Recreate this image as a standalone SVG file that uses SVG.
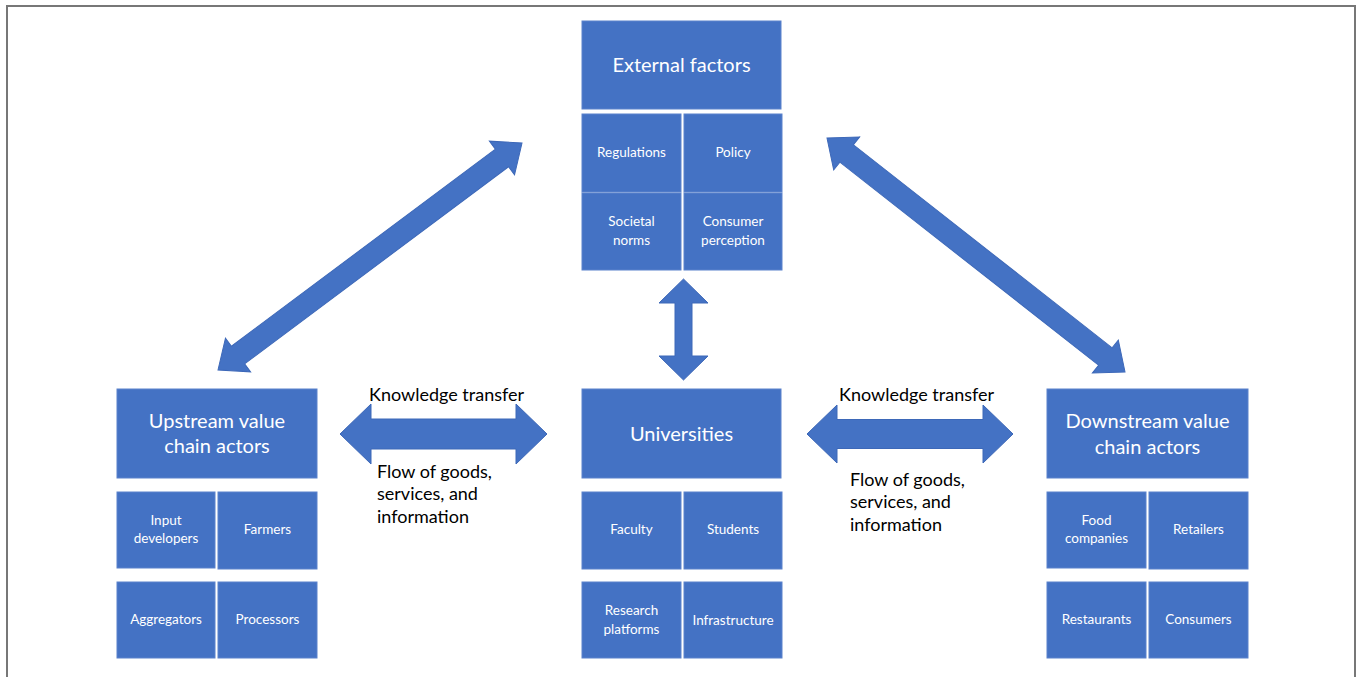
<svg xmlns="http://www.w3.org/2000/svg" width="1363" height="677" viewBox="0 0 1363 677">
<style>
.box{fill:#4472C4;stroke:#5b82cc;stroke-width:1}
.big{font-family:Lato,"Liberation Sans",sans-serif;font-size:20px;fill:#fff;text-anchor:middle;dominant-baseline:central}
.sm{font-family:Lato,"Liberation Sans",sans-serif;font-size:13.5px;fill:#fff;text-anchor:middle;dominant-baseline:central}
.lbl{font-family:Lato,"Liberation Sans",sans-serif;font-size:18px;fill:#000}
.arr{fill:#4472C4;stroke:#3d68b8;stroke-width:1}
</style>
<rect x="0" y="0" width="1363" height="677" fill="#fff"/>
<path d="M7,677 V6 H1355 V677" fill="none" stroke="#777" stroke-width="2"/>

<g id="external">
<rect class="box" x="582" y="21" width="199" height="88"/>
<text class="big" x="681.5" y="64">External factors</text>
<rect class="box" x="582" y="114" width="99" height="78"/>
<text class="sm" x="631.5" y="152">Regulations</text>
<rect class="box" x="684" y="114" width="98" height="78"/>
<text class="sm" x="733" y="152">Policy</text>
<rect class="box" x="582" y="193" width="99" height="77"/>
<text class="sm" x="631.5" y="221">Societal</text>
<text class="sm" x="631.5" y="240">norms</text>
<rect class="box" x="684" y="193" width="98" height="77"/>
<text class="sm" x="733" y="221">Consumer</text>
<text class="sm" x="733" y="240">perception</text>
</g>

<g id="universities">
<rect class="box" x="582" y="389" width="199" height="89"/>
<text class="big" x="681.5" y="433">Universities</text>
<rect class="box" x="582" y="492" width="99" height="77"/>
<text class="sm" x="631.5" y="529">Faculty</text>
<rect class="box" x="684" y="492" width="98" height="77"/>
<text class="sm" x="733" y="529">Students</text>
<rect class="box" x="582" y="582" width="99" height="76"/>
<text class="sm" x="631.5" y="610">Research</text>
<text class="sm" x="631.5" y="629">platforms</text>
<rect class="box" x="684" y="582" width="98" height="76"/>
<text class="sm" x="733" y="620">Infrastructure</text>
</g>

<g id="upstream">
<rect class="box" x="117" y="389" width="200" height="89"/>
<text class="big" x="217" y="420">Upstream value</text>
<text class="big" x="217" y="445">chain actors</text>
<rect class="box" x="117" y="492" width="98" height="76"/>
<text class="sm" x="166" y="520">Input</text>
<text class="sm" x="166" y="538">developers</text>
<rect class="box" x="218" y="492" width="99" height="77"/>
<text class="sm" x="267.5" y="529">Farmers</text>
<rect class="box" x="117" y="582" width="98" height="76"/>
<text class="sm" x="166" y="619">Aggregators</text>
<rect class="box" x="218" y="582" width="99" height="76"/>
<text class="sm" x="267.5" y="619">Processors</text>
</g>

<g id="downstream">
<rect class="box" x="1047" y="389" width="201" height="89"/>
<text class="big" x="1147.5" y="420">Downstream value</text>
<text class="big" x="1147.5" y="446">chain actors</text>
<rect class="box" x="1047" y="492" width="99" height="76"/>
<text class="sm" x="1096.5" y="520">Food</text>
<text class="sm" x="1096.5" y="538">companies</text>
<rect class="box" x="1149" y="492" width="99" height="77"/>
<text class="sm" x="1198.5" y="529">Retailers</text>
<rect class="box" x="1047" y="582" width="99" height="76"/>
<text class="sm" x="1096.5" y="619">Restaurants</text>
<rect class="box" x="1149" y="582" width="99" height="76"/>
<text class="sm" x="1198.5" y="619">Consumers</text>
</g>

<g id="connectors">
<path class="arr" transform="translate(218,370) rotate(-36.75)" d="M0,0 L25,-21 L25,-11 L354.4,-11 L354.4,-21 L379.4,0 L354.4,21 L354.4,11 L25,11 L25,21 Z"/>
<path class="arr" transform="translate(827,138) rotate(38.14)" d="M0,0 L25,-21 L25,-11 L353.9,-11 L353.9,-21 L378.9,0 L353.9,21 L353.9,11 L25,11 L25,21 Z"/>
<path class="arr" transform="translate(683.5,279) rotate(90)" d="M0,0 L24,-24.5 L24,-8.5 L77,-8.5 L77,-24.5 L101,0 L77,24.5 L77,8.5 L24,8.5 L24,24.5 Z"/>
<path class="arr" transform="translate(340,434)" d="M0,0 L31,-30 L31,-15 L176,-15 L176,-30 L207,0 L176,30 L176,15 L31,15 L31,30 Z"/>
<path class="arr" transform="translate(807,434)" d="M0,0 L30,-29 L30,-14.5 L176,-14.5 L176,-29 L206,0 L176,29 L176,14.5 L30,14.5 L30,29 Z"/>
</g>

<g id="labels">
<text class="lbl" x="369" y="401">Knowledge transfer</text>
<text class="lbl" x="377" y="478">Flow of goods,</text>
<text class="lbl" x="377" y="500">services, and</text>
<text class="lbl" x="377" y="523">information</text>
<text class="lbl" x="839" y="401">Knowledge transfer</text>
<text class="lbl" x="850" y="486">Flow of goods,</text>
<text class="lbl" x="850" y="508">services, and</text>
<text class="lbl" x="850" y="531">information</text>
</g>
</svg>
